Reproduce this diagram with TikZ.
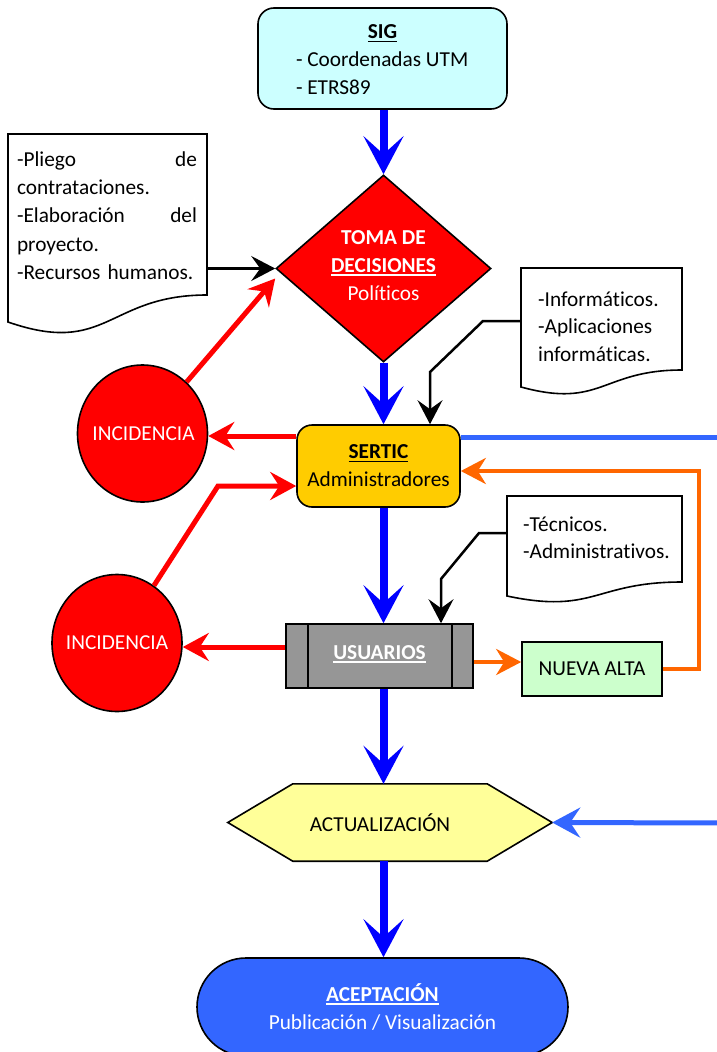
\documentclass[tikz,border=0pt]{standalone}
\usepackage{fontspec}
\setmainfont{Carlito}[Ligatures=NoCommon]
\usetikzlibrary{arrows.meta,shapes.geometric,shapes.misc}

\definecolor{sigcyan}{HTML}{CCFFFF}
\definecolor{serticgold}{HTML}{FFCC00}
\definecolor{usrgray}{HTML}{969696}
\definecolor{altagreen}{HTML}{CCFFCC}
\definecolor{actyellow}{HTML}{FFFF99}
\definecolor{acepblue}{HTML}{3366FF}
\definecolor{flowblue}{HTML}{0000FF}
\definecolor{feedorange}{HTML}{FF6600}

% thick underline that follows the current text colour
\newcommand{\ulx}[1]{{\setbox0=\hbox{#1}\rlap{\rule[-3.4pt]{\wd0}{1.7pt}}\box0}}

\begin{document}
\begin{tikzpicture}[x=1pt,y=-1pt,
  every node/.style={font=\fontsize{21.3}{28}\selectfont, inner sep=0pt},
  shapeline/.style={draw=black, line width=1.6pt},
  spine/.style={draw=flowblue, line width=8pt, -{Stealth[length=38pt,width=40pt,inset=18pt]}},
  redarrow/.style={draw=red, line width=5pt, -{Stealth[length=26pt,width=28pt,inset=9pt]}},
  orangearrow/.style={draw=feedorange, line width=4pt, -{Stealth[length=25pt,width=26pt,inset=8pt]}},
  blackarrow/.style={draw=black, line width=2.5pt, -{Stealth[length=24pt,width=25pt,inset=9pt]}},
  feedline/.style={draw=acepblue, line width=5pt},
  feedarrow/.style={feedline, -{Stealth[length=28pt,width=30pt,inset=10pt]}},
  doctext/.style={align=left, font=\fontsize{21.3}{27.5}\selectfont},
  incid/.style={ellipse, shapeline, fill=red, minimum width=130pt, minimum height=137pt}
]
\useasboundingbox (0,0) rectangle (717,1052);
\clip (0,0) rectangle (717,1052);

% ---------- documents (wavy lower edge) ----------
\node[minimum width=199pt, minimum height=201pt] (doc1) at (107.5,234.5) {};
\draw[shapeline, fill=white] (8,134) -- (207,134) -- (207,295)
  .. controls (107.5,295) and (107.5,356.6) .. (8,322) -- cycle;
\node[doctext, text width=180pt, font=\fontsize{21.3}{28.2}\selectfont] (doc1text) at (107,215.5)
  {\makebox[180pt]{-Pliego\hfill de}\\contrataciones.\\\makebox[180pt]{-Elaboración\hfill del}\\proyecto.\\-Recursos humanos.};

\node[minimum width=161pt, minimum height=127.4pt] (doc2) at (601.5,331.7) {};
\draw[shapeline, fill=white] (521,268) -- (682,268) -- (682,370)
  .. controls (601.5,370) and (601.5,409) .. (521,387) -- cycle;
\node[doctext, anchor=west] (doc2text) at (538,326.5)
  {-Informáticos.\\-Aplicaciones\\informáticas.};

\node[minimum width=175pt, minimum height=107pt] (doc3) at (594.5,549.5) {};
\draw[shapeline, fill=white] (507,496) -- (682,496) -- (682,582)
  .. controls (594.5,582) and (594.5,614.5) .. (507,596) -- cycle;
\node[doctext, anchor=west] (doc3text) at (523,537.5)
  {-Técnicos.\\-Administrativos.};

% ---------- main flow ----------
\node[shapeline, fill=sigcyan, rounded corners=16pt, minimum width=249pt, minimum height=101pt] (sig) at (382.5,58.5) {};
\node[align=left] (sigtext) at (382.5,60)
  {\makebox[173pt]{\ulx{\textbf{SIG}}}\\- Coordenadas UTM\\- ETRS89};

\node[diamond, shapeline, fill=red, minimum width=215pt, minimum height=187pt, aspect=1.15] (toma) at (383.5,268.5) {};
\node[align=center, text=white] (tomatext) at (383.5,265.5)
  {\textbf{TOMA DE}\\\ulx{\textbf{DECISIONES}}\\Políticos};

\node[shapeline, fill=serticgold, rounded corners=15pt, minimum width=163pt, minimum height=82pt, align=center] (sertic) at (378.5,466)
  {\ulx{\textbf{SERTIC}}\\Administradores};

\node[incid] (inc1) at (142.5,433.5) {};
\node[text=white] (inc1text) at (143.5,434) {INCIDENCIA};
\node[incid] (inc2) at (117,643) {};
\node[text=white] (inc2text) at (117,643) {INCIDENCIA};

\node[shapeline, fill=usrgray, minimum width=187pt, minimum height=64pt] (usuarios) at (379.5,656) {};
\draw[shapeline] ([xshift=23pt]usuarios.north west) -- ([xshift=23pt]usuarios.south west);
\draw[shapeline] ([xshift=-22pt]usuarios.north east) -- ([xshift=-22pt]usuarios.south east);
\node[text=white] (usuariostext) at (379.5,654) {\ulx{\textbf{USUARIOS}}};

\node[shapeline, fill=altagreen, minimum width=140pt, minimum height=54pt] (nueva) at (592,669) {NUEVA ALTA};

\node[minimum width=324pt, minimum height=77pt] (act) at (390,822.5) {};
\draw[shapeline, fill=actyellow] (act.west) -- ([xshift=65pt]act.north west) -- ([xshift=-65pt]act.north east)
  -- (act.east) -- ([xshift=-65pt]act.south east) -- ([xshift=65pt]act.south west) -- cycle;
\node (acttext) at (380,823) {ACTUALIZACIÓN};

\node[rounded rectangle, shapeline, fill=acepblue, minimum width=371pt, minimum height=98pt, align=center, text=white] (acep) at (382.5,1007)
  {\ulx{\textbf{ACEPTACIÓN}}\\Publicación / Visualización};

% ---------- connectors ----------
\draw[spine] (sig.south -| toma.north) -- (toma.north);
\draw[spine] (toma.south) -- (sertic.north -| toma.south);
\draw[spine] (sertic.south -| toma.south) -- (usuarios.north -| toma.south);
\draw[spine] (usuarios.south -| toma.south) -- (act.north -| toma.south);
\draw[spine] (act.south -| toma.south) -- (acep.north -| toma.south);

\draw[blackarrow] (doc1.east |- toma.west) -- (toma.west);
\coordinate (bend2a) at (483,321);
\coordinate (bend2b) at (430,372);
\draw[blackarrow] (doc2.west |- bend2a) -- (bend2a) -- (bend2b) -- (sertic.north -| bend2b);
\coordinate (bend3a) at (479,533);
\coordinate (bend3b) at (441,579);
\draw[blackarrow] (doc3.west |- bend3a) -- (bend3a) -- (bend3b) -- (usuarios.north -| bend3b);

\draw[redarrow] (inc1) -- ([yshift=-10pt]toma.west);
\coordinate (redout) at ([yshift=30pt]sertic.west);
\draw[redarrow] (redout) -- (inc1.east |- redout);
\coordinate (bendr) at (218,486);
\draw[redarrow] (inc2) -- (bendr) -- (sertic.west |- bendr);
\coordinate (redout2) at ([yshift=9pt]usuarios.west);
\draw[redarrow] (redout2) -- (inc2.east |- redout2);

\coordinate (orin) at ([yshift=7pt]nueva.west);
\draw[orangearrow] (usuarios.east |- orin) -- (orin);
\coordinate (oright) at (699,471);
\draw[orangearrow] (nueva.east) -| (oright) -- (sertic.east |- oright);

\coordinate (feedout) at (722,437);
\draw[feedline] (sertic.east |- feedout) -- (feedout);
\coordinate (feedin) at (722,823);
\draw[feedarrow] (feedin) -- (act.east);
\end{tikzpicture}
\end{document}
